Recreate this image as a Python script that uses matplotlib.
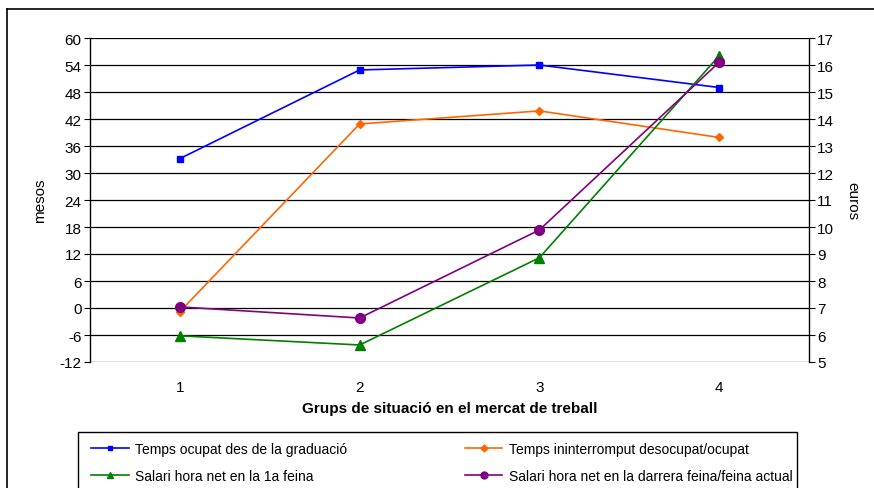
import matplotlib.pyplot as plt
from matplotlib.lines import Line2D
from matplotlib.patches import Rectangle

plt.rcParams['font.family'] = ['Liberation Sans', 'DejaVu Sans']
plt.rcParams['axes.unicode_minus'] = False

grups = [1, 2, 3, 4]
temps_ocupat = [33.2, 52.9, 54.0, 49.0]
temps_ininterromput = [-0.8, 40.9, 43.8, 37.9]
salari_1a = [5.97, 5.63, 8.86, 16.34]
salari_darrera = [7.04, 6.63, 9.89, 16.1]

mesos_ticks = list(range(-12, 61, 6))
euros_ticks = list(range(5, 18))

fig = plt.figure(figsize=(8.74, 4.89), dpi=100)
W, H = 874, 489

# marc exterior del grafic
fig.add_artist(Line2D([7 / W, 7 / W], [0, 1 - 10 / H], color='black', lw=1.2))
fig.add_artist(Line2D([7 / W, 1], [1 - 10 / H, 1 - 10 / H], color='black', lw=1.2))

ax = fig.add_axes([90 / W, 1 - 363 / H, (809 - 90) / W, (363 - 39) / H])
ax2 = ax.twinx()

ax.set_xlim(0.5, 4.5)
ax.set_ylim(-12, 60)
ax.set_yticks(mesos_ticks)
ax.set_xticks(grups)
ax2.set_ylim(5, 17)
ax2.set_yticks(euros_ticks)

for t in mesos_ticks:
    ax.axhline(t, color='black', lw=0.9, zorder=0)

for a in (ax, ax2):
    a.spines['top'].set_visible(False)
    a.spines['bottom'].set_visible(False)
ax.spines['left'].set_linewidth(1.0)
ax2.spines['right'].set_linewidth(1.0)
ax2.spines['left'].set_visible(False)
ax.spines['right'].set_visible(False)

ax.tick_params(axis='y', direction='out', length=4, labelsize=11, pad=2)
ax2.tick_params(axis='y', direction='out', length=4, labelsize=11, pad=2)
ax.tick_params(axis='x', length=0, labelsize=11, pad=13)

colors = ['#0000FF', '#FF6600', '#008000', '#800080']
labels = ['Temps ocupat des de la graduació',
          'Temps ininterromput desocupat/ocupat',
          'Salari hora net en la 1a feina',
          'Salari hora net en la darrera feina/feina actual']

ax.plot(grups, temps_ocupat, color=colors[0], lw=1.2, marker='s', ms=5, zorder=3)
ax.plot(grups, temps_ininterromput, color=colors[1], lw=1.2, marker='D', ms=4.5, zorder=3)
ax2.plot(grups, salari_1a, color=colors[2], lw=1.2, marker='^', ms=7, zorder=3)
ax2.plot(grups, salari_darrera, color=colors[3], lw=1.2, marker='o', ms=7, zorder=3)

ax.set_ylabel('mesos', fontsize=11, labelpad=9)
ax2.set_ylabel('euros', fontsize=11, rotation=270, labelpad=18)
ax.set_xlabel('Grups de situació en el mercat de treball', fontsize=11,
              fontweight='bold', labelpad=5)

# llegenda: marc a part, entrades per files
fig.add_artist(Rectangle((78 / W, -0.05), (797 - 78) / W, 1 - 433 / H + 0.05,
                         transform=fig.transFigure, fill=False,
                         edgecolor='black', lw=1.0))
handles = [
    Line2D([], [], color=colors[0], lw=1.2, marker='s', ms=3.5),
    Line2D([], [], color=colors[2], lw=1.2, marker='^', ms=5),
    Line2D([], [], color=colors[1], lw=1.2, marker='D', ms=3.5),
    Line2D([], [], color=colors[3], lw=1.2, marker='o', ms=5),
]
leg_labels = [labels[0], labels[2], labels[1], labels[3]]
leg = fig.legend(handles=handles, labels=leg_labels, ncol=2, loc='upper left',
                 bbox_to_anchor=(91 / W, 1 - 443 / H), fontsize=10,
                 frameon=False, handlelength=2.7, borderaxespad=0,
                 borderpad=0, labelspacing=0.95, handletextpad=0.45,
                 columnspacing=8.5)

fig.savefig('out.png', dpi=100)
